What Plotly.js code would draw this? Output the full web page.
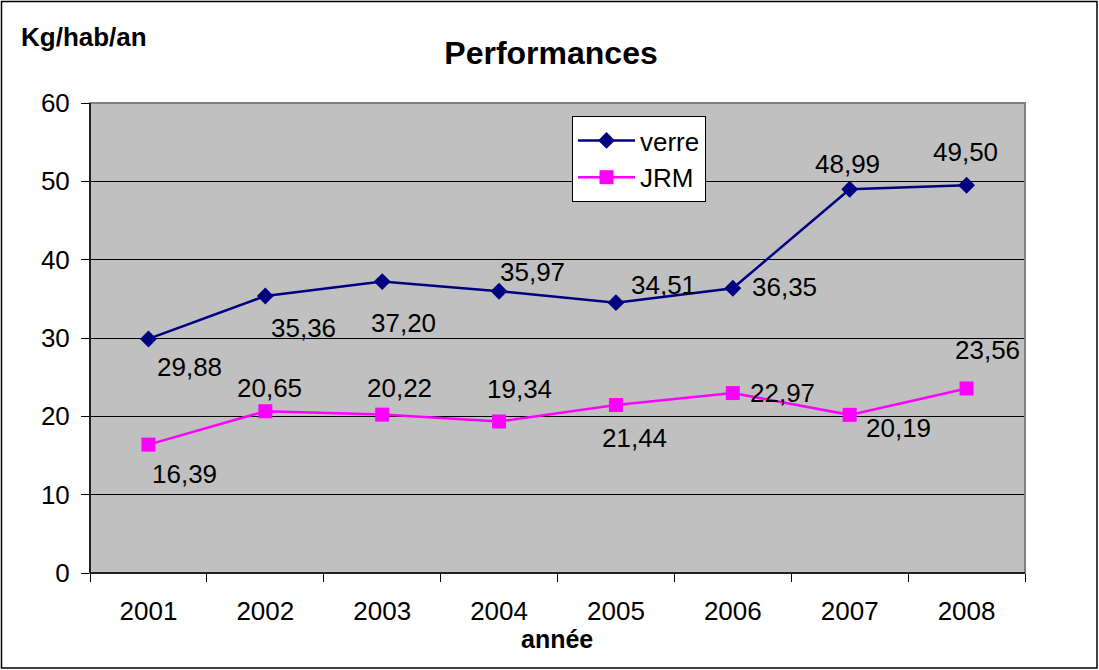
<!DOCTYPE html>
<html>
<head>
<meta charset="utf-8">
<script src="https://cdn.plot.ly/plotly-3.0.1.min.js"></script>
<style>
  html, body { margin: 0; padding: 0; background: #fff; }
  #chart { width: 1099px; height: 670px; }
</style>
</head>
<body>
<div id="chart"></div>
<script>
// ---- data ----
const years = ['2001', '2002', '2003', '2004', '2005', '2006', '2007', '2008'];
const verre = [29.88, 35.36, 37.20, 35.97, 34.51, 36.35, 48.99, 49.50];
const jrm = [16.39, 20.65, 20.22, 19.34, 21.44, 22.97, 20.19, 23.56];
const yTicks = [0, 10, 20, 30, 40, 50, 60];
const seriesNames = ['verre', 'JRM'];

// ---- label placement (pixel offsets from each point: [dx, dy down]) ----
const verreShift = [[41, 28], [38, 32], [21, 41], [33, -19], [48, -18], [52, -1], [-2, -25], [-1, -33]];
const jrmShift = [[36, 29], [4, -23], [17, -27], [20, -33], [19, 33], [50, 0], [49, 13], [21, -38]];

const W = 1099, H = 670;
const M = { l: 90, r: 74, t: 103, b: 97 };
const PW = W - M.l - M.r, PH = H - M.t - M.b;
const px = p => (p - M.l) / PW;          // pixel x -> paper x
const py = p => (H - M.b - p) / PH;      // pixel y -> paper y

const FONT = 'Arial, "Liberation Sans", sans-serif';
const fmt = v => v.toFixed(2).replace('.', ',');

const traces = [
  {
    x: years, y: verre, name: seriesNames[0], type: 'scatter', mode: 'lines+markers',
    line: { color: '#000080', width: 2.5 },
    marker: { symbol: 'diamond', size: 13, color: '#000080' }
  },
  {
    x: years, y: jrm, name: seriesNames[1], type: 'scatter', mode: 'lines+markers',
    line: { color: '#FF00FF', width: 2.5 },
    marker: { symbol: 'square', size: 14, color: '#FF00FF' }
  }
];

const annotations = [];
function addLabels(vals, shifts) {
  vals.forEach((v, i) => {
    annotations.push({
      x: i, y: v, xref: 'x', yref: 'y', text: fmt(v), showarrow: false,
      xanchor: 'center', yanchor: 'middle',
      xshift: shifts[i][0], yshift: -shifts[i][1],
      font: { family: FONT, size: 26, color: '#000' }
    });
  });
}
addLabels(verre, verreShift);
addLabels(jrm, jrmShift);

annotations.push({
  xref: 'paper', yref: 'paper', x: px(19), y: py(37), xanchor: 'left', yanchor: 'middle',
  text: '<b>Kg/hab/an</b>', showarrow: false, font: { family: FONT, size: 26, color: '#000' }
});
annotations.push({
  xref: 'paper', yref: 'paper', x: px(557), y: py(639), xanchor: 'center', yanchor: 'middle',
  text: '<b>année</b>', showarrow: false, font: { family: FONT, size: 25, color: '#000' }
});

const shapes = [
  // plot area border (gray)
  { type: 'rect', xref: 'paper', yref: 'paper', x0: 0, x1: 1, y0: 0, y1: 1, layer: 'above',
    line: { color: '#808080', width: 2 }, fillcolor: 'rgba(0,0,0,0)' },
  // black axis lines
  { type: 'line', xref: 'paper', yref: 'paper', x0: 0, x1: 0, y0: 0, y1: 1, layer: 'above',
    line: { color: '#000', width: 1.5 } },
  { type: 'line', xref: 'paper', yref: 'paper', x0: 0, x1: 1, y0: 0, y1: 0, layer: 'above',
    line: { color: '#000', width: 1.5 } },
  // outer chart frame
  { type: 'rect', xref: 'paper', yref: 'paper', x0: px(1.5), x1: px(1097), y0: py(668), y1: py(1.5),
    layer: 'above', line: { color: '#000', width: 1.5 }, fillcolor: 'rgba(0,0,0,0)' }
];

const layout = {
  width: W, height: H,
  margin: M,
  paper_bgcolor: '#FFFFFF',
  plot_bgcolor: '#C0C0C0',
  font: { family: FONT, size: 26, color: '#000' },
  title: {
    text: '<b>Performances</b>', x: 551 / W, xref: 'container', xanchor: 'center',
    y: 1 - 53 / H, yref: 'container', yanchor: 'middle',
    font: { family: FONT, size: 32, color: '#000' }
  },
  showlegend: true,
  legend: {
    x: px(572), y: py(116), xanchor: 'left', yanchor: 'top',
    bgcolor: '#FFFFFF', bordercolor: '#000', borderwidth: 1,
    font: { family: FONT, size: 26, color: '#000' },
    itemwidth: 57, tracegroupgap: 0
  },
  xaxis: {
    type: 'category', range: [-0.5, 7.5], tickson: 'boundaries',
    ticks: 'outside', ticklen: 8, tickcolor: '#000', tickwidth: 1,
    showgrid: false, zeroline: false, showline: false,
    ticklabelstandoff: 20,
    tickfont: { family: FONT, size: 26, color: '#000' }, fixedrange: true
  },
  yaxis: {
    range: [0, 60], tickvals: yTicks, ticktext: yTicks.map(String),
    ticks: 'outside', ticklen: 8, tickcolor: '#000', tickwidth: 1,
    showgrid: true, gridcolor: '#000', gridwidth: 1,
    zeroline: false, showline: false,
    ticklabelstandoff: 6,
    tickfont: { family: FONT, size: 26, color: '#000' }, fixedrange: true
  },
  annotations: annotations,
  shapes: shapes
};

Plotly.newPlot('chart', traces, layout, { staticPlot: true, displayModeBar: false });
</script>
</body>
</html>
